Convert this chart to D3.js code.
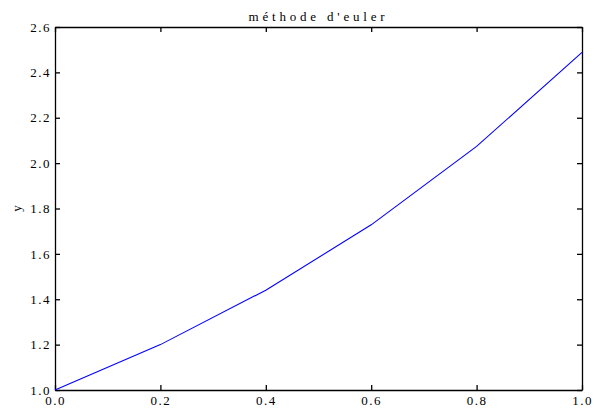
<!DOCTYPE html>
<html>
<head>
<meta charset="utf-8">
<script src="https://cdn.jsdelivr.net/npm/d3@7"></script>
<style>
body { margin: 0; background: #fff; }
svg text { font-family: "Liberation Serif", "DejaVu Serif", serif; }
</style>
</head>
<body>
<svg id="chart" width="594" height="418"></svg>
<script>
// euler method, step 0.2
var xValues = [0.0, 0.2, 0.4, 0.6, 0.8, 1.0];
var yValues = [1.0, 1.2, 1.44, 1.728, 2.0736, 2.4883];
var xTicks = [0.0, 0.2, 0.4, 0.6, 0.8, 1.0];
var yTicks = [1.0, 1.2, 1.4, 1.6, 1.8, 2.0, 2.2, 2.4, 2.6];

var svg = d3.select('#chart');
var padding = {t: 27, r: 12, b: 28, l: 55};
var cellWidth = 594 - padding.l - padding.r;
var cellHeight = 418 - padding.t - padding.b;

var chart = svg.append('g')
    .attr('transform', 'translate(' + [padding.l, padding.t] + ')');

var xScale = d3.scaleLinear().domain([0, 1]).range([0, cellWidth]);
var yScale = d3.scaleLinear().domain([1, 2.6]).range([cellHeight, 0]);

function styleAxis(g, hideText) {
    g.select('.domain').attr('stroke', '#000').attr('stroke-width', 1.3);
    g.selectAll('.tick line').attr('stroke', '#000').attr('stroke-width', 1.3);
    g.selectAll('.tick text')
        .attr('fill', '#000')
        .style('font-size', '13px')
        .style('letter-spacing', '1.5px');
    if (hideText) g.selectAll('.tick text').remove();
}

var fmt = d3.format('.1f');

// bottom
var xAxis = chart.append('g')
    .attr('transform', 'translate(' + [0, cellHeight] + ')')
    .call(d3.axisBottom(xScale).tickValues(xTicks).tickFormat(fmt).tickSizeInner(-5).tickSizeOuter(0).tickPadding(6));
styleAxis(xAxis, false);

// top
var xAxisTop = chart.append('g')
    .call(d3.axisTop(xScale).tickValues(xTicks).tickSizeInner(-5).tickSizeOuter(0));
styleAxis(xAxisTop, true);

// left
var yAxis = chart.append('g')
    .call(d3.axisLeft(yScale).tickValues(yTicks).tickFormat(fmt).tickSizeInner(-5).tickSizeOuter(0).tickPadding(4));
styleAxis(yAxis, false);

// right
var yAxisRight = chart.append('g')
    .attr('transform', 'translate(' + [cellWidth, 0] + ')')
    .call(d3.axisRight(yScale).tickValues(yTicks).tickSizeInner(-5).tickSizeOuter(0));
styleAxis(yAxisRight, true);

var line = d3.line()
    .x(function(d, i) { return xScale(xValues[i]); })
    .y(function(d) { return yScale(d); });

chart.append('path')
    .datum(yValues)
    .attr('d', line)
    .attr('fill', 'none')
    .attr('stroke', '#0000ff')
    .attr('stroke-width', 1.1);

// title
svg.append('text')
    .attr('x', padding.l + cellWidth / 2)
    .attr('y', 21)
    .attr('text-anchor', 'middle')
    .style('font-size', '13px')
    .style('letter-spacing', '3.8px')
    .text("méthode d'euler");

// y label
svg.append('text')
    .attr('transform', 'translate(' + [21, padding.t + cellHeight / 2] + ') rotate(-90)')
    .attr('text-anchor', 'middle')
    .style('font-size', '13px')
    .text('y');

// x label (mostly off the bottom edge, as in the source)
svg.append('text')
    .attr('x', padding.l + cellWidth / 2)
    .attr('y', 429)
    .attr('text-anchor', 'middle')
    .style('font-size', '13px')
    .text('t');
</script>
</body>
</html>
